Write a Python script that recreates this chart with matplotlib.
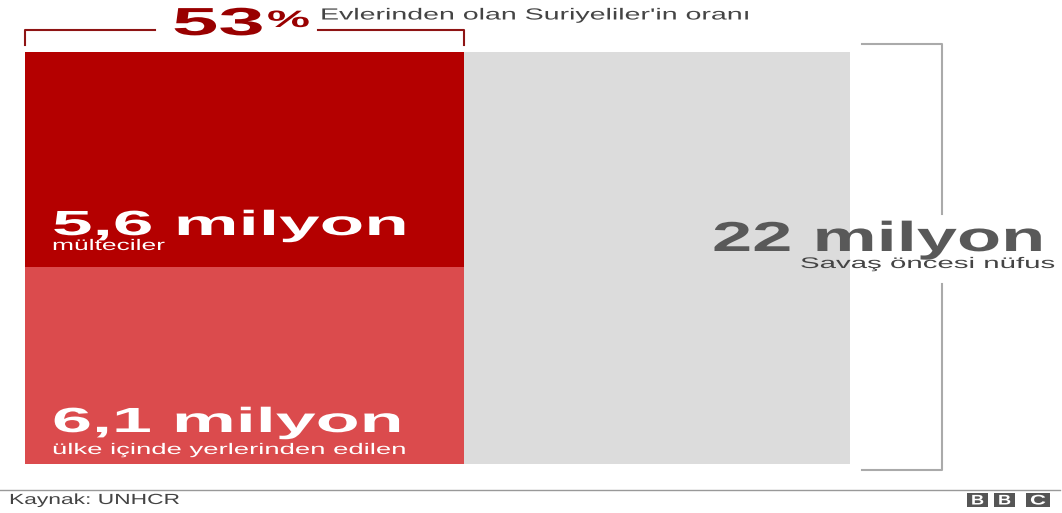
import matplotlib
matplotlib.use("Agg")
import matplotlib.pyplot as plt
from matplotlib.patches import Rectangle
from matplotlib.patheffects import AbstractPathEffect
from matplotlib.transforms import Affine2D

# data (millions)
total_pop = 22.0
refugees = 5.6
idps = 6.1
share_label = "53"
labels = ["5,6 milyon", "6,1 milyon", "22 milyon"]
sublabels = ["mülteciler", "ülke içinde yerlerinden edilen", "Savaş öncesi nüfus"]

DARK_RED = "#b40000"
LIGHT_RED = "#db4b4d"
GREY = "#dcdcdc"

plt.rcParams['font.family'] = ['Liberation Sans', 'DejaVu Sans']

W, H = 1062, 513
fig = plt.figure(figsize=(W / 100, H / 100), dpi=100)


class Stretch(AbstractPathEffect):
    # widen glyphs horizontally, the reference type is very wide
    def __init__(self, sx):
        super().__init__()
        self.sx = sx

    def draw_path(self, renderer, gc, tpath, affine, rgbFace=None):
        renderer.draw_path(gc, tpath, Affine2D().scale(self.sx, 1) + affine, rgbFace)


# chart block: 25..850 px wide, 52..464 px high
ax = fig.add_axes([25 / W, 1 - 464 / H, 825 / W, 412 / H])
ax.set_xlim(0, total_pop)
ax.set_ylim(0, 1)
ax.axis("off")

displaced = refugees + idps
low_h = refugees / displaced
ax.bar(0, 1, width=total_pop, color=GREY, align="edge", linewidth=0)
ax.bar(0, low_h, width=displaced, color=LIGHT_RED, align="edge", linewidth=0)
ax.bar(0, 1 - low_h, bottom=low_h, width=displaced, color=DARK_RED,
       align="edge", linewidth=0)

# overlay in pixel coords for annotations
ov = fig.add_axes([0, 0, 1, 1])
ov.set_xlim(0, W)
ov.set_ylim(H, 0)
ov.axis("off")
ov.patch.set_alpha(0)
renderer = fig.canvas.get_renderer()


def wide_text(x0, x1, base, s, cap, **kw):
    size = cap / 0.716 * 0.72  # cap height px -> pt at 100 dpi
    t = ov.text(x0, base, s, fontsize=size, ha="left", va="baseline", **kw)
    w = t.get_window_extent(renderer).width
    t.set_path_effects([Stretch((x1 - x0) / w)])
    return t


red_right = 25 + 825 * displaced / total_pop

# top bracket
bc = "#8e1414"
ov.plot([25, 25, 155], [45, 30, 30], color=bc, lw=1.5)
ov.plot([318, red_right, red_right], [30, 30, 45], color=bc, lw=1.5)
wide_text(172, 265, 35, share_label, 28, fontweight="bold", color="#990000")
wide_text(267, 310, 27, "%", 17, fontweight="bold", color="#990000")
wide_text(320, 750, 19.5, "Evlerinden olan Suriyeliler'in oranı", 11.5,
          color="#444444")

# right bracket
gc = "#aaaaaa"
ov.plot([862, 942, 942], [44, 44, 214], color=gc, lw=1.5)
ov.plot([942, 942, 862], [284, 470, 470], color=gc, lw=1.5)

# block labels
wide_text(52, 408, 235, labels[0], 25, fontweight="bold", color="white")
wide_text(52, 165, 250, sublabels[0], 11, color="white")
wide_text(52, 403, 432, labels[1], 25, fontweight="bold", color="white")
wide_text(52, 408, 454, sublabels[1], 11, color="white")
wide_text(712, 1045, 251, labels[2], 30, fontweight="bold", color="#595959")
wide_text(800, 1056, 268, sublabels[2], 11, color="#444444")

# footer
ov.plot([0, 1060], [490, 490], color="#999999", lw=1)
wide_text(9, 180, 504, "Kaynak: UNHCR", 10.5, color="#444444")
for x0, bw, ch in zip([967, 994, 1026], [21, 21, 24], "BBC"):
    ov.add_patch(Rectangle((x0, 493), bw, 14, color="#555555", lw=0))
    wide_text(x0 + 4, x0 + bw - 4, 504.5, ch, 10, fontweight="bold", color="white")

fig.savefig("out.png", dpi=100)
